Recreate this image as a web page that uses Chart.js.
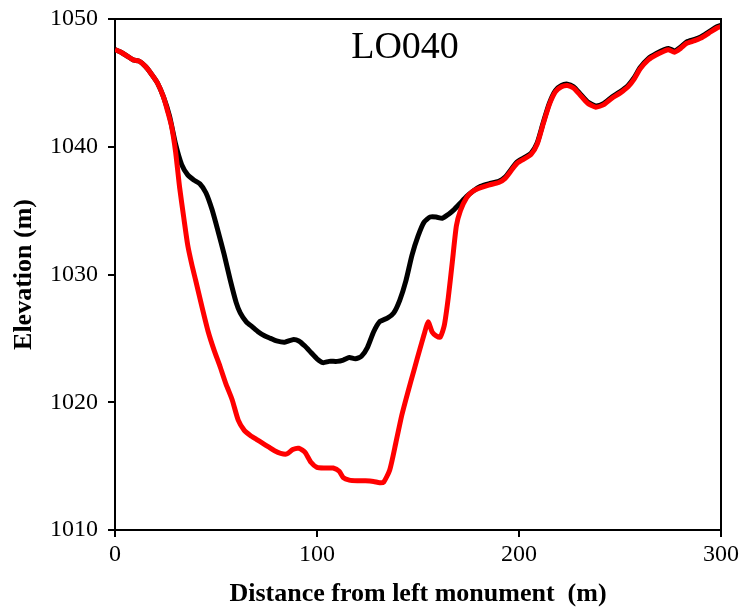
<!DOCTYPE html>
<html lang="en">
<head>
  <meta charset="UTF-8"/>
  <title>LO040</title>
  <script src="https://cdn.jsdelivr.net/npm/chart.js"></script>
  <style>
    html, body { margin: 0; padding: 0; background: #fff; }
    #wrap { width: 742px; height: 611px; }
  </style>
</head>
<body>
  <div id="wrap"><canvas id="chart" width="742" height="611"></canvas></div>

  <script>
    // black profile
    const distBlack = [0,3,6,9,12,15,18,21,24,27,30,33,36,39,42,45,48,51,54,57,60,62,65,68,71,74,77,80,84,88,91,94,97,100,103,106,110,113,116,119,122,125,128,131,135,138,141,144,147,150,153,156,159,162,165,168,171,174,177,181,185,190,193,196,199,202,206,209,212,215,218,221,224,227,230,234,238,242,246,250,254,257,260,264,268,272,274,277,280,283,287,290,294,298,300];
    const elevBlack = [1047.6,1047.4,1047.1,1046.8,1046.7,1046.3,1045.7,1045.0,1043.9,1042.4,1040.2,1038.6,1037.8,1037.4,1037.1,1036.4,1035.1,1033.4,1031.6,1029.6,1027.8,1027.0,1026.3,1025.9,1025.5,1025.2,1025.0,1024.8,1024.7,1024.9,1024.8,1024.4,1023.9,1023.4,1023.1,1023.2,1023.2,1023.3,1023.5,1023.4,1023.6,1024.3,1025.5,1026.3,1026.6,1027.0,1028.0,1029.5,1031.5,1033.0,1034.1,1034.5,1034.5,1034.4,1034.7,1035.1,1035.6,1036.1,1036.5,1036.9,1037.1,1037.3,1037.6,1038.2,1038.8,1039.1,1039.5,1040.3,1041.9,1043.4,1044.4,1044.8,1044.9,1044.7,1044.2,1043.5,1043.2,1043.4,1043.9,1044.3,1044.8,1045.4,1046.2,1046.9,1047.3,1047.6,1047.7,1047.5,1047.8,1048.2,1048.4,1048.6,1049.0,1049.4,1049.5];

    // red profile
    const distRed = [0,3,6,9,12,15,18,21,24,26,28,30,32,34,36,38,40,43,46,49,52,55,58,61,64,67,70,73,76,79,82,85,88,91,94,97,100,104,108,111,113,116,120,124,128,131,133,136,139,142,145,148,151,153,155,157,159,161,163,165,167,169,171,174,177,181,185,190,193,196,199,202,206,209,212,215,218,221,224,227,230,234,238,242,246,250,254,257,260,264,268,272,274,277,280,283,287,290,294,298,300];
    const elevRed = [1047.6,1047.4,1047.1,1046.8,1046.7,1046.3,1045.7,1045.0,1043.9,1042.8,1041.6,1039.6,1036.8,1034.5,1032.3,1030.8,1029.5,1027.5,1025.6,1024.1,1022.8,1021.4,1020.2,1018.6,1017.8,1017.4,1017.1,1016.8,1016.5,1016.2,1016.0,1015.95,1016.3,1016.4,1016.1,1015.3,1014.9,1014.85,1014.85,1014.6,1014.1,1013.9,1013.85,1013.85,1013.8,1013.7,1013.75,1014.7,1016.8,1019.0,1020.8,1022.5,1024.2,1025.3,1026.3,1025.5,1025.2,1025.1,1026.0,1028.2,1031.0,1033.8,1035.0,1036.0,1036.5,1036.8,1037.0,1037.2,1037.5,1038.1,1038.7,1039.0,1039.4,1040.2,1041.8,1043.3,1044.3,1044.7,1044.8,1044.6,1044.1,1043.4,1043.1,1043.3,1043.8,1044.2,1044.7,1045.3,1046.1,1046.8,1047.2,1047.5,1047.6,1047.4,1047.7,1048.1,1048.3,1048.5,1048.9,1049.3,1049.4];

    const xTicks = [0, 100, 200, 300];
    const yTicks = [1010, 1020, 1030, 1040, 1050];
    const chartTitle = 'LO040';

    const serif = '"Liberation Serif", "Times New Roman", serif';

    function pts(xs, ys) {
      return xs.map((x, i) => ({x: x, y: ys[i]}));
    }

    // frame on top/right plus the label inside the plot
    const framePlugin = {
      id: 'frame',
      afterDraw(chart) {
        const a = chart.chartArea, ctx = chart.ctx;
        ctx.save();
        ctx.strokeStyle = '#000';
        ctx.lineWidth = 2;
        ctx.beginPath();
        ctx.moveTo(a.left, a.top);
        ctx.lineTo(a.right, a.top);
        ctx.lineTo(a.right, a.bottom);
        ctx.stroke();
        ctx.fillStyle = '#000';
        ctx.font = '38px ' + serif;
        ctx.textAlign = 'center';
        ctx.textBaseline = 'alphabetic';
        ctx.fillText(chartTitle, (a.left + a.right) / 2 - 13, a.top + 39);
        ctx.restore();
      }
    };

    function noPad(s) {
      s.paddingTop = 0; s.paddingBottom = 0; s.paddingLeft = 0; s.paddingRight = 0;
    }

    const ctx = document.getElementById('chart').getContext('2d');
    new Chart(ctx, {
      type: 'scatter',
      data: {
        datasets: [
          {
            label: 'black',
            data: pts(distBlack, elevBlack),
            showLine: true,
            borderColor: '#000',
            borderWidth: 5,
            pointRadius: 0,
            tension: 0.2,
            order: 2
          },
          {
            label: 'red',
            data: pts(distRed, elevRed),
            showLine: true,
            borderColor: '#ff0000',
            borderWidth: 5,
            pointRadius: 0,
            tension: 0.2,
            order: 1
          }
        ]
      },
      options: {
        responsive: false,
        animation: false,
        layout: { padding: { top: 19, right: 21, left: 0, bottom: 0 } },
        plugins: { legend: { display: false }, tooltip: { enabled: false } },
        scales: {
          x: {
            type: 'linear',
            min: 0, max: 300,
            afterBuildTicks: s => { s.ticks = xTicks.map(v => ({value: v})); },
            afterFit: s => { s.height = 81; noPad(s); },
            border: { display: true, color: '#000', width: 2 },
            grid: { drawOnChartArea: false, drawTicks: true, tickLength: 7, color: '#000', lineWidth: 2 },
            ticks: { color: '#000', font: { family: serif, size: 24, lineHeight: 1 }, padding: 6, maxRotation: 0,
                     callback: v => String(v) },
            title: {
              display: true,
              text: 'Distance from left monument  (m)',
              color: '#000',
              font: { family: serif, size: 26, weight: 'bold' },
              padding: { top: 0, bottom: 1 }
            }
          },
          y: {
            min: 1010, max: 1050,
            afterBuildTicks: s => { s.ticks = yTicks.map(v => ({value: v})); },
            afterFit: s => { s.width = 115; noPad(s); },
            border: { display: true, color: '#000', width: 2 },
            grid: { drawOnChartArea: false, drawTicks: true, tickLength: 7, color: '#000', lineWidth: 2 },
            ticks: { color: '#000', font: { family: serif, size: 24, lineHeight: 1 }, padding: 10,
                     callback: v => String(v) },
            title: {
              display: true,
              text: 'Elevation (m)',
              color: '#000',
              font: { family: serif, size: 26, weight: 'bold' },
              padding: { top: 9, bottom: 0 }
            }
          }
        }
      },
      plugins: [framePlugin]
    });
  </script>
</body>
</html>
